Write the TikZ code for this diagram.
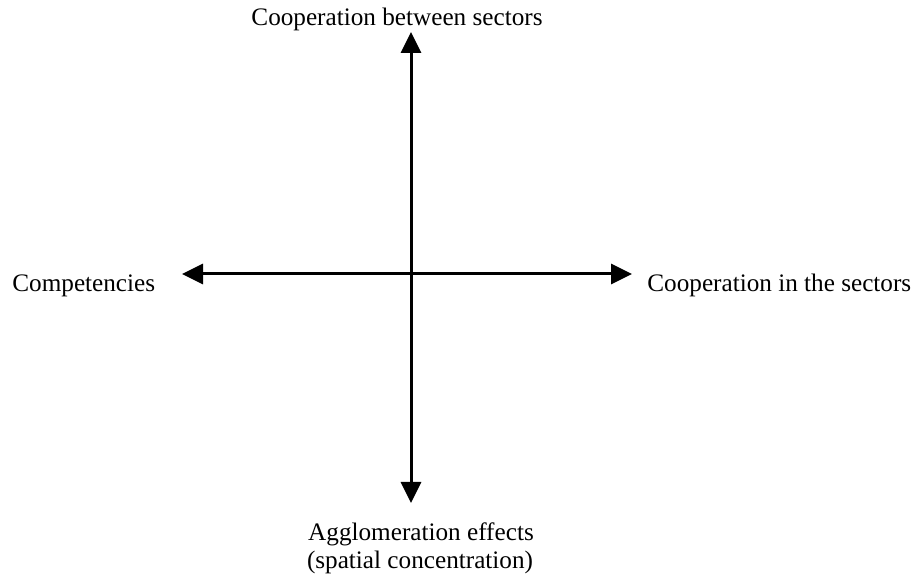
\documentclass[tikz,border=0pt]{standalone}
\usepackage{fontspec}
\setmainfont{Liberation Serif}
\usetikzlibrary{arrows.meta}

\begin{document}
\begin{tikzpicture}[x=0.5pt,y=0.5pt]
\tikzset{
  axis/.style={line width=1.5pt, {Triangle[width=10pt,length=10.5pt]}-{Triangle[width=10pt,length=10.5pt]}},
  label/.style={inner sep=0pt, font=\fontsize{12.6}{14}\selectfont}
}
\useasboundingbox (0,0) rectangle (916,-581);
% ends of the two axes
\coordinate (top) at (411,-32);
\coordinate (bottom) at (411,-503);
\coordinate (left) at (182,-274);
\coordinate (right) at (632,-274);
\draw [axis] (bottom) -- (top);
\draw [axis] (left) -- (right);
% axis labels
\node [label, anchor=base] (between) at (397,-26) {Cooperation between sectors};
\node [label, anchor=base west] (comp) at (12,-292) {Competencies};
\node [label, anchor=base west] (inside) at (647,-292) {Cooperation in the sectors};
\node [label, anchor=base] (aggl) at (421,-541) {Agglomeration effects};
\node [label, anchor=base] (spatial) at (420,-569) {(spatial concentration)};
\end{tikzpicture}
\end{document}
